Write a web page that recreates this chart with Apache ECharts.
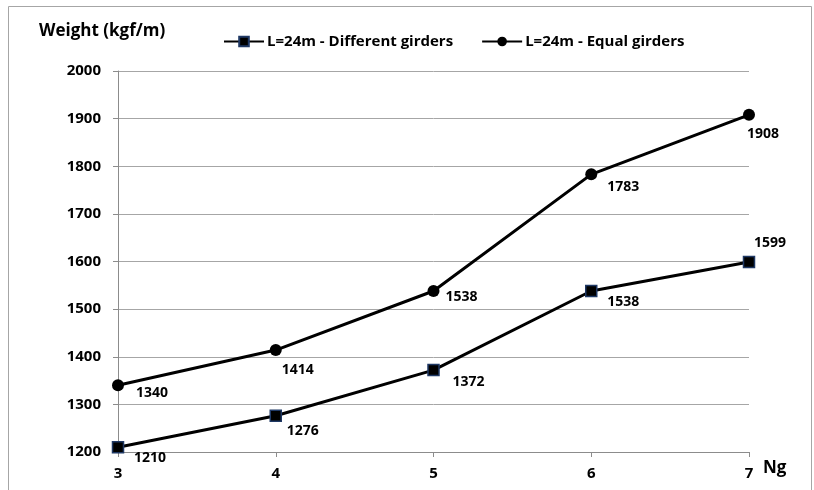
<!DOCTYPE html>
<html>
<head>
<meta charset="utf-8">
<script src="https://cdn.jsdelivr.net/npm/echarts@6/dist/echarts.min.js"></script>
<style>
  html, body { margin: 0; padding: 0; background: #fff; }
  #chart { width: 814px; height: 490px; }
</style>
</head>
<body>
<div id="chart"></div>
<script>
// Number of girders (Ng) on the x axis
const girderCounts = [3, 4, 5, 6, 7];
// Weight per metre for a 24 m span
const differentGirders = [1210, 1276, 1372, 1538, 1599];
const equalGirders = [1340, 1414, 1538, 1783, 1908];
const yTicks = [1200, 1300, 1400, 1500, 1600, 1700, 1800, 1900, 2000];

const seriesNames = ['L=24m - Different girders', 'L=24m - Equal girders'];

const FONT = '"Open Sans", "Noto Sans", sans-serif';

// hand-placed value label offsets [dx, dy] relative to each marker
const diffLabelOffsets = [[16, 11], [11, 15], [19, 12], [16, 11], [5, -19]];
const equalLabelOffsets = [[18, 8], [6, 20], [12, 6], [16, 13], [-2, 19]];

function buildPoints(values, offsets) {
  return girderCounts.map((g, i) => ({
    value: [g, values[i]],
    label: { offset: [offsets[i][0] + 16, offsets[i][1]] }
  }));
}

const labelStyle = {
  show: true,
  position: 'inside',
  align: 'center',
  verticalAlign: 'middle',
  color: '#000',
  fontFamily: FONT,
  fontWeight: 'bold',
  fontSize: 14,
  formatter: p => p.value[1]
};

const chart = echarts.init(document.getElementById('chart'), null, { renderer: 'canvas' });

chart.setOption({
  animation: false,
  backgroundColor: '#fff',
  graphic: [{
    type: 'rect',
    shape: { x: 8.5, y: 6.5, width: 803, height: 500 },
    style: { fill: 'none', stroke: '#a6a6a6', lineWidth: 1 },
    silent: true
  }, {
    type: 'text',
    left: 39, top: 23,
    style: {
      text: 'Weight (kgf/m)',
      font: 'bold 17px ' + FONT,
      fill: '#000'
    }
  }],
  legend: {
    top: 29, left: 218,
    itemGap: 28,
    itemWidth: 40,
    itemHeight: 12,
    textStyle: { fontFamily: FONT, fontWeight: 'bold', fontSize: 15, color: '#000', padding: [0, 0, 0, -2] },
    data: seriesNames
  },
  grid: { left: 118, right: 65, top: 71, bottom: 38, containLabel: false },
  xAxis: {
    type: 'value',
    min: 3, max: 7, interval: 1,
    name: 'Ng',
    nameLocation: 'end',
    nameGap: 14,
    nameTextStyle: { fontFamily: FONT, fontWeight: 'bold', fontSize: 17, color: '#000', verticalAlign: 'top', padding: [8, 0, 0, 0] },
    axisLine: { lineStyle: { color: '#8c8c8c', width: 1 } },
    axisTick: { show: true, length: 5, lineStyle: { color: '#8c8c8c' } },
    axisLabel: { fontFamily: FONT, fontWeight: 'bold', fontSize: 15, color: '#000', margin: 14 },
    splitLine: { show: false }
  },
  yAxis: {
    type: 'value',
    min: yTicks[0], max: yTicks[yTicks.length - 1], interval: 100,
    axisLine: { show: true, lineStyle: { color: '#8c8c8c', width: 1 } },
    axisTick: { show: true, length: 5, lineStyle: { color: '#8c8c8c' } },
    axisLabel: { fontFamily: FONT, fontWeight: 'bold', fontSize: 15, color: '#000', margin: 17, formatter: v => String(v) },
    splitLine: { show: true, lineStyle: { color: '#a6a6a6', width: 1 } }
  },
  series: [{
    name: seriesNames[0],
    type: 'line',
    data: buildPoints(differentGirders, diffLabelOffsets),
    symbol: 'rect',
    symbolSize: 11,
    lineStyle: { color: '#000', width: 3 },
    itemStyle: { color: '#000', borderColor: '#1f3864', borderWidth: 1.5 },
    label: labelStyle,
    z: 3
  }, {
    name: seriesNames[1],
    type: 'line',
    data: buildPoints(equalGirders, equalLabelOffsets),
    symbol: 'circle',
    symbolSize: 12,
    lineStyle: { color: '#000', width: 3 },
    itemStyle: { color: '#000' },
    label: labelStyle,
    z: 3
  }]
});
</script>
</body>
</html>
